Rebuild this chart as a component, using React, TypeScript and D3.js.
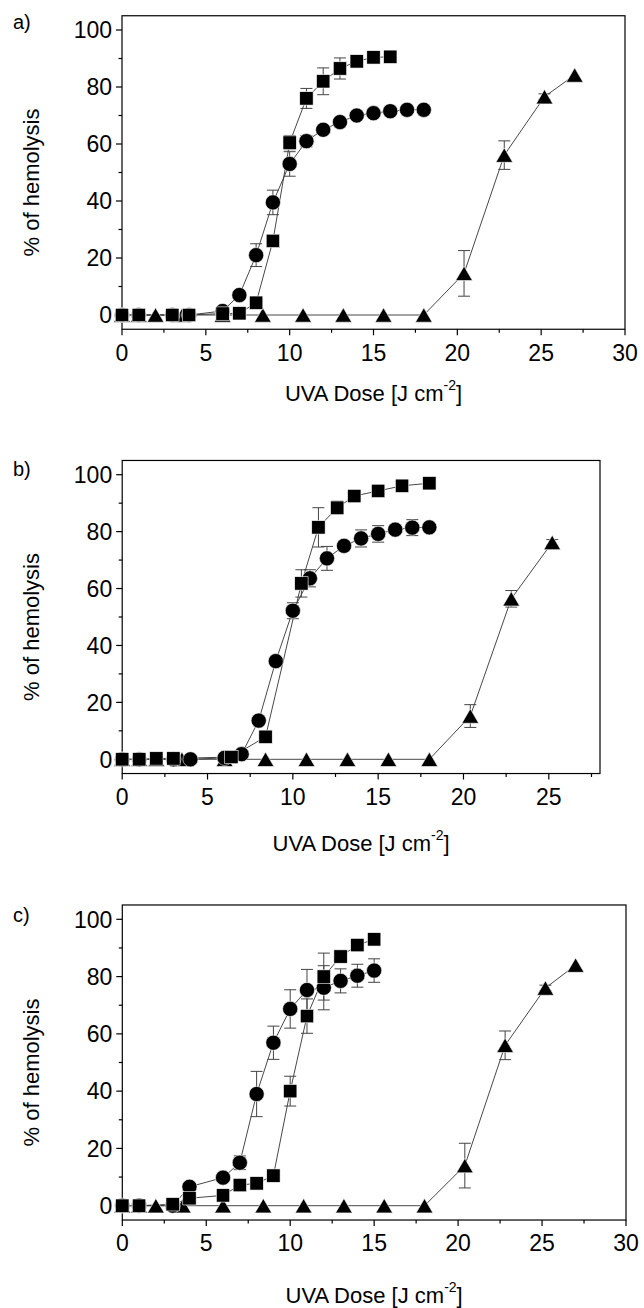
import React from 'react';
import * as d3 from 'd3';

// ---------- Data ----------
// Panel a
const aSquareX = [0, 1, 3, 4, 6, 7, 8, 9, 10, 11, 12, 13, 14, 15, 16];
const aSquareY = [0, 0, 0, 0, 0.5, 0.6, 4.3, 26, 60.5, 76, 82, 86.5, 89, 90.4, 90.6];
const aSquareE = [0, 0, 0, 0, 0, 0, 1, 1.5, 2.5, 3.5, 4.7, 3.7, 1, 1, 0];
const aCircleX = [0, 1, 3, 4, 6, 7, 8, 9, 10, 11, 12, 13, 14, 15, 16, 17, 18];
const aCircleY = [0, 0, 0, 0, 1.4, 7, 21, 39.5, 53, 61, 65, 67.7, 70, 70.8, 71.5, 72, 72];
const aCircleE = [0, 0, 0, 0, 0, 0.5, 4, 4.3, 4.3, 2, 1, 1, 1, 1, 1, 1, 0.5];
const aTriX = [0, 1, 2, 3.6, 6, 8.4, 10.8, 13.2, 15.6, 18, 20.4, 22.8, 25.2, 27];
const aTriY = [0, 0, 0, 0, 0, 0, 0, 0, 0, 0, 14.6, 56.1, 76.6, 84.2];
const aTriE = [0, 0, 0, 0, 0, 0, 0, 0, 0, 0, 8, 5, 1, 0];

// Panel b
const bSquareX = [0, 1, 2, 3, 6.4, 8.4, 10.5, 11.5, 12.6, 13.6, 15, 16.4, 18];
const bSquareY = [0, 0, 0.3, 0.3, 0.8, 7.9, 61.8, 81.5, 88.4, 92.5, 94.3, 96.1, 97];
const bSquareE = [0, 0, 0, 0, 0, 0.5, 4.8, 6.9, 2.3, 1, 1, 0.5, 0.5];
const bCircleX = [0, 1, 3, 4, 6, 7, 8, 9, 10, 11, 12, 13, 14, 15, 16, 17, 18];
const bCircleY = [0, 0, 0, 0, 0.5, 1.8, 13.6, 34.5, 52.2, 63.6, 70.6, 75, 77.6, 79.2, 80.7, 81.4, 81.5];
const bCircleE = [0, 0, 0, 0, 0, 0, 0.5, 1, 2.8, 3, 4.2, 1.5, 3, 2.9, 1, 2.8, 1];
const bTriX = [0, 1, 2, 3.5, 6, 8.4, 10.8, 13.2, 15.6, 18, 20.4, 22.8, 25.2];
const bTriY = [0, 0, 0, 0, 0, 0, 0, 0, 0, 0, 15.2, 56.4, 76.2];
const bTriE = [0, 0, 0, 0, 0, 0, 0, 0, 0, 0, 4, 2.9, 1];

// Panel c
const cSquareX = [0, 1, 3, 4, 6, 7, 8, 9, 10, 11, 12, 13, 14, 15];
const cSquareY = [0, 0, 0.5, 2.6, 3.6, 7.2, 7.8, 10.5, 40, 66.2, 80, 87, 91, 93];
const cSquareE = [0, 0, 0, 0, 0, 1, 0.8, 1, 5.2, 6, 8.2, 1, 1, 0.5];
const cCircleX = [0, 1, 3, 4, 6, 7, 8, 9, 10, 11, 12, 13, 14, 15];
const cCircleY = [0, 0, 0, 6.6, 9.8, 15, 39, 56.9, 68.7, 75.3, 76.1, 78.5, 80.3, 82.1];
const cCircleE = [0, 0, 0, 0.5, 1, 2.4, 7.9, 5.8, 6.7, 7.2, 7.7, 4.2, 4, 4.1];
const cTriX = [0, 1, 2, 3.6, 6, 8.4, 10.8, 13.2, 15.6, 18, 20.4, 22.8, 25.2, 27];
const cTriY = [0, 0, 0, 0, 0, 0, 0, 0, 0, 0, 14, 56, 76, 84];
const cTriE = [0, 0, 0, 0, 0, 0, 0, 0, 0, 0, 7.8, 5, 1, 0];

const yTickValues = [0, 20, 40, 60, 80, 100];
const yMinorValues = [10, 30, 50, 70, 90];
const panelLabels = ['a)', 'b)', 'c)'];
const xMaxes = [30, 28, 30];
const yTitle = '% of hemolysis';
const xTitleMain = 'UVA Dose  [J cm';
const xTitleSup = '-2';
const xTitleEnd = ']';

// ---------- Layout ----------
const FONT = '"Liberation Sans", Arial, Helvetica, sans-serif';
type Shape = 'square' | 'circle' | 'triangle';
type Series = { x: number[]; y: number[]; e: number[]; shape: Shape };

const layouts = [
  { left: 122, right: 625, y100: 30, y0: 315, labelY: 29, xTickY: 353, titleY: 393 },
  { left: 122.2, right: 600, y100: 474.7, y0: 759.3, labelY: 476, xTickY: 797, titleY: 843 },
  { left: 122.3, right: 626, y100: 919.3, y0: 1205.7, labelY: 922, xTickY: 1243, titleY: 1295 },
];

const panelSeries: Series[][] = [
  [
    { x: aTriX, y: aTriY, e: aTriE, shape: 'triangle' },
    { x: aCircleX, y: aCircleY, e: aCircleE, shape: 'circle' },
    { x: aSquareX, y: aSquareY, e: aSquareE, shape: 'square' },
  ],
  [
    { x: bTriX, y: bTriY, e: bTriE, shape: 'triangle' },
    { x: bCircleX, y: bCircleY, e: bCircleE, shape: 'circle' },
    { x: bSquareX, y: bSquareY, e: bSquareE, shape: 'square' },
  ],
  [
    { x: cTriX, y: cTriY, e: cTriE, shape: 'triangle' },
    { x: cCircleX, y: cCircleY, e: cCircleE, shape: 'circle' },
    { x: cSquareX, y: cSquareY, e: cSquareE, shape: 'square' },
  ],
];

function Marker({ shape, cx, cy }: { shape: Shape; cx: number; cy: number }) {
  const stroke = '#ffffff';
  const sw = 0.6;
  if (shape === 'square') {
    const s = 13.4;
    return <rect x={cx - s / 2} y={cy - s / 2} width={s} height={s} fill="#000" stroke={stroke} strokeWidth={sw} />;
  }
  if (shape === 'circle') {
    return <circle cx={cx} cy={cy} r={7.6} fill="#000" stroke={stroke} strokeWidth={sw} />;
  }
  const w = 8.4;
  const h = 7.2;
  return (
    <path
      d={`M${cx - w},${cy + h}L${cx + w},${cy + h}L${cx},${cy - h}Z`}
      fill="#000"
      stroke={stroke}
      strokeWidth={sw}
    />
  );
}

function Panel({ idx }: { idx: number }) {
  const L = layouts[idx];
  const xMax = xMaxes[idx];
  const x = d3.scaleLinear().domain([0, xMax]).range([L.left, L.right]);
  const y = d3.scaleLinear().domain([0, 100]).range([L.y0, L.y100]);
  const top = y(105);
  const bottom = y(-5);
  const series = panelSeries[idx];

  const xMajor = d3.range(0, xMax + 0.001, 5);
  const xMinor = d3.range(2.5, xMax + 0.001, 5);
  const line = d3
    .line<number>()
    .x((d) => d);

  const cx = (L.left + L.right) / 2;
  const cyFrame = (top + bottom) / 2;

  return (
    <g>
      {/* panel label */}
      <text x={13} y={L.labelY} fontFamily={FONT} fontSize={20} fill="#000">
        {panelLabels[idx]}
      </text>

      {/* frame */}
      <rect x={L.left} y={top} width={L.right - L.left} height={bottom - top} fill="none" stroke="#000" strokeWidth={1.2} />

      {/* y ticks */}
      {yTickValues.map((v) => (
        <g key={'yt' + v}>
          <line x1={L.left - 6} x2={L.left} y1={y(v)} y2={y(v)} stroke="#000" strokeWidth={1.2} />
          <text x={L.left - 10} y={y(v)} dy="0.36em" textAnchor="end" fontFamily={FONT} fontSize={23} fill="#000">
            {v}
          </text>
        </g>
      ))}
      {yMinorValues.map((v) => (
        <line key={'ym' + v} x1={L.left - 3.5} x2={L.left} y1={y(v)} y2={y(v)} stroke="#000" strokeWidth={1.2} />
      ))}

      {/* x ticks */}
      {xMajor.map((v) => (
        <g key={'xt' + v}>
          <line x1={x(v)} x2={x(v)} y1={bottom} y2={bottom + 6} stroke="#000" strokeWidth={1.2} />
          <text x={x(v)} y={L.xTickY} dy="0.36em" textAnchor="middle" fontFamily={FONT} fontSize={23} fill="#000">
            {v}
          </text>
        </g>
      ))}
      {xMinor.map((v) => (
        <line key={'xm' + v} x1={x(v)} x2={x(v)} y1={bottom} y2={bottom + 3.5} stroke="#000" strokeWidth={1.2} />
      ))}

      {/* axis titles */}
      <text x={cx} y={L.titleY} dy="0.36em" textAnchor="middle" fontFamily={FONT} fontSize={22} fill="#000">
        {xTitleMain}
        <tspan fontSize={14} dy="-0.75em">{xTitleSup}</tspan>
        <tspan fontSize={22} dy="0.48em">{xTitleEnd}</tspan>
      </text>
      <text
        transform={`translate(31,${cyFrame + 10}) rotate(-90)`}
        textAnchor="middle"
        dy="0.36em"
        fontFamily={FONT}
        fontSize={22}
        fill="#000"
      >
        {yTitle}
      </text>

      {/* connecting lines */}
      {series.map((s, si) => {
        const pts: [number, number][] = s.x.map((xv, i) => [x(xv), y(s.y[i])]);
        const path = d3.line()(pts);
        return <path key={'ln' + si} d={path || ''} fill="none" stroke="#333" strokeWidth={0.9} />;
      })}

      {/* error bars */}
      {series.map((s, si) =>
        s.x.map((xv, i) => {
          const e = s.e[i];
          if (!e) return null;
          const px = x(xv);
          const y1 = y(s.y[i] + e);
          const y2 = y(s.y[i] - e);
          return (
            <g key={'eb' + si + '-' + i} stroke="#444" strokeWidth={1}>
              <line x1={px} x2={px} y1={y1} y2={y2} />
              <line x1={px - 6} x2={px + 6} y1={y1} y2={y1} />
              <line x1={px - 6} x2={px + 6} y1={y2} y2={y2} />
            </g>
          );
        })
      )}

      {/* markers */}
      {series.map((s, si) =>
        s.x.map((xv, i) => <Marker key={'mk' + si + '-' + i} shape={s.shape} cx={x(xv)} cy={y(s.y[i])} />)
      )}
    </g>
  );
}

export default function App() {
  return (
    <svg
      width={644}
      height={1308}
      viewBox="0 0 644 1308"
      style={{ position: 'absolute', left: 0, top: 0, background: '#fff' }}
    >
      <rect x={0} y={0} width={644} height={1308} fill="#fff" />
      {[0, 1, 2].map((i) => (
        <Panel key={i} idx={i} />
      ))}
    </svg>
  );
}
